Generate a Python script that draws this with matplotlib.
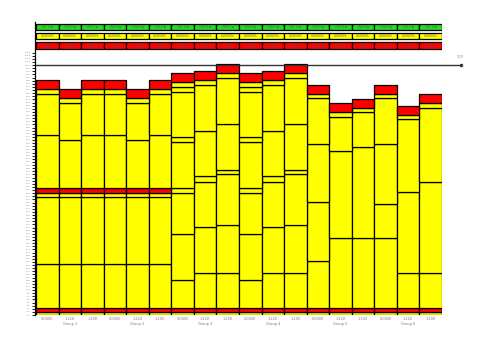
import numpy as np
import matplotlib
matplotlib.use("Agg")
import matplotlib.pyplot as plt
from matplotlib.patches import Rectangle

YEL = '#FFFF00'
RED = '#FF0000'
GRN = '#22DD22'

# stacked layers, bottom to top (one value per bar, 18 bars)
l0 = [1.4] * 18
l1 = [1.6] * 18
l2 = [17.3, 17.3, 17.3, 17.3, 17.3, 17.3, 11.0, 13.7, 13.7, 11.0, 13.7, 13.7, 18.6, 27.7, 27.7, 27.7, 13.7, 13.7]
l3 = [26.8, 26.8, 26.8, 26.8, 26.8, 26.8, 18.4, 18.4, 19.3, 18.4, 18.4, 19.3, 23.5, 34.9, 36.4, 13.6, 32.4, 36.7]
l4 = [1.8, 1.8, 1.8, 1.8, 1.8, 1.8, 16.5, 18.3, 20.3, 16.5, 18.3, 20.3, 23.2, 13.5, 14.0, 24.0, 29.2, 29.3]
l5 = [0, 0, 0, 0, 0, 0, 1.8, 2.1, 1.7, 1.8, 2.1, 1.7, 18.4, 2.0, 1.6, 18.4, 1.8, 2.0]
l6 = [1.8, 1.8, 1.8, 1.8, 1.8, 1.8, 0, 0, 0, 0, 0, 0, 0, 0, 0, 0, 0, 0]
l7 = [21.2, 19.2, 21.2, 21.2, 19.2, 21.2, 18.4, 18.1, 18.4, 18.4, 18.1, 18.4, 1.6, 0, 0, 1.6, 0, 0]
l8 = [16.4, 14.8, 16.4, 16.4, 14.8, 16.4, 2.0, 18.4, 18.3, 2.0, 18.4, 18.3, 0, 0, 0, 0, 0, 0]
l9 = [2.0, 2.0, 2.0, 2.0, 2.0, 2.0, 18.0, 1.9, 2.0, 18.0, 1.9, 2.0, 0, 0, 0, 0, 0, 0]
l10 = [0, 0, 0, 0, 0, 0, 2.0, 0, 0, 2.0, 0, 0, 0, 0, 0, 0, 0, 0]
l11 = [0, 0, 0, 0, 0, 0, 2.0, 0, 0, 2.0, 0, 0, 0, 0, 0, 0, 0, 0]
l12 = [3.7, 3.6, 3.7, 3.7, 3.6, 3.7, 3.6, 3.6, 3.6, 3.6, 3.6, 3.6, 3.6, 3.6, 3.6, 3.6, 3.6, 3.6]

layers = [l0, l1, l2, l3, l4, l5, l6, l7, l8, l9, l10, l11, l12]
layer_colors = [YEL, RED, YEL, YEL, YEL, YEL, RED, YEL, YEL, YEL, YEL, YEL, RED]

bar_labels = ['0.0000', '1.220', '1.200'] * 6
group_labels = ['Group 1', 'Group 2', 'Group 3', 'Group 4', 'Group 5', 'Group 6']

row_green = ['100.0 \u25aa'] * 18
row_yellow = ['0.0000%'] * 18
row_red = ['0.000 \u25aa'] * 18

ref_value = 100

fig = plt.figure(figsize=(5.03, 3.56), dpi=100)
ax = fig.add_axes([36 / 503, 41 / 356, 406 / 503, 293 / 356])

x = np.arange(18)
bottom = np.zeros(18)
for vals, col in zip(layers, layer_colors):
    vals = np.array(vals, dtype=float)
    m = vals > 0
    ax.bar(x[m], vals[m], width=1.0, bottom=bottom[m], color=col,
           edgecolor='black', linewidth=0.9)
    bottom += vals

# table rows above the bars
rows = [(row_green, GRN, 114.0, 116.3), (row_yellow, YEL, 110.3, 112.7), (row_red, RED, 106.4, 109.1)]
for texts, col, y0, y1 in rows:
    for i, t in enumerate(texts):
        ax.add_patch(Rectangle((i - 0.5, y0), 1, y1 - y0, facecolor=col,
                               edgecolor='black', linewidth=0.9))
        ax.text(i, (y0 + y1) / 2, t, ha='center', va='center', fontsize=2.2, color='#555555')

# reference line
ax.plot([-0.55, 18.34], [ref_value, ref_value], color='#333333', lw=1, clip_on=False)
ax.plot([18.34], [ref_value], marker='o', ms=1.5, color='#333333', clip_on=False)
ax.text(18.3, ref_value + 3, str(ref_value), fontsize=2.5, color='#888888', ha='center')

ax.set_xlim(-0.5, 17.5)
ax.set_ylim(0, 117.2)
for s in ['top', 'right', 'bottom']:
    ax.spines[s].set_visible(False)
ax.spines['left'].set_linewidth(0.9)
ax.spines['left'].set_position(('outward', 1))

ax.set_yticks(np.arange(0, 106, 1.25))
ax.set_yticklabels([f'{v:.1f}' for v in np.arange(0, 106, 1.25)], fontsize=1.5, color='#888888')
ax.tick_params(axis='y', length=2.5, width=0.6, pad=0.5)

ax.set_xticks(x)
ax.set_xticklabels(bar_labels, fontsize=2.5, color='#777777')
ax.tick_params(axis='x', length=0, pad=1.5)
for g, lab in enumerate(group_labels):
    ax.text(g * 3 + 1, -2.8, lab, ha='center', va='top', fontsize=2.5, color='#777777')

fig.savefig('out.png', dpi=100)
